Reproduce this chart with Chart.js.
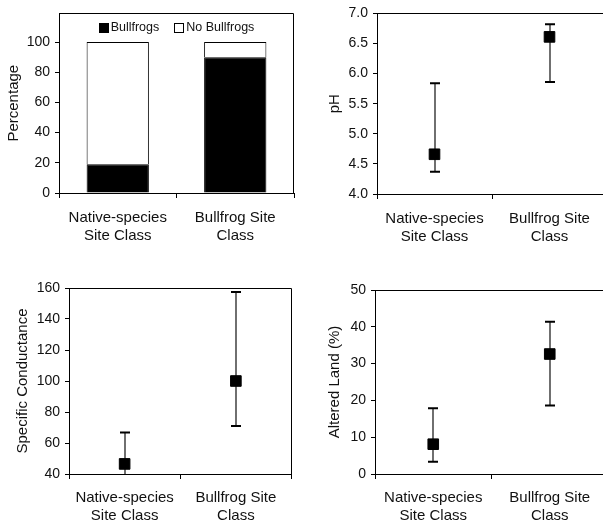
<!DOCTYPE html>
<html>
<head>
<meta charset="utf-8">
<script src="https://cdn.jsdelivr.net/npm/chart.js@4.4.1/dist/chart.umd.min.js"></script>
<style>
  html, body { margin: 0; padding: 0; background: #fff; }
  #wrap { position: relative; width: 603px; height: 523px; overflow: hidden; background: #fff; }
  canvas { position: absolute; }
</style>
</head>
<body>
<div id="wrap">
  <canvas id="pct"  width="300" height="250" style="left:0;top:0"></canvas>
  <canvas id="ph"   width="330" height="250" style="left:300px;top:0"></canvas>
  <canvas id="cond" width="300" height="253" style="left:0;top:270px"></canvas>
  <canvas id="land" width="330" height="253" style="left:300px;top:270px"></canvas>
</div>
<script>
// Site classes shared by all four panels
const categories = [['Native-species', 'Site Class'], ['Bullfrog Site', 'Class']];

// Percentage of sites with / without bullfrogs
const pctBullfrogs = [19, 90];
const pctNoBullfrogs = [81, 10];

// pH: median with range
const phMean = [4.66, 6.61];
const phLow = [4.37, 5.86];
const phHigh = [5.84, 6.82];

// Specific conductance
const condMean = [46.5, 100];
const condLow = [36, 71];
const condHigh = [66.7, 157.4];

// Altered land (%)
const landMean = [8.1, 32.6];
const landLow = [3.3, 18.6];
const landHigh = [17.9, 41.4];

const FONT = 'Liberation Sans, Arial, Helvetica, sans-serif';
const INK = '#111';

// Closes the plot box on the top (and, unless turned off, the right) side
const frame = {
  id: 'frame',
  afterDraw(chart, args, opts) {
    const a = chart.chartArea, ctx = chart.ctx;
    const l = Math.round(a.left) + 0.5, r = Math.round(a.right) - 0.5;
    const t = Math.round(a.top) + 0.5, b = Math.round(a.bottom) + 0.5;
    ctx.save();
    ctx.strokeStyle = '#000';
    ctx.lineWidth = 1;
    ctx.beginPath();
    ctx.moveTo(l, t); ctx.lineTo(r, t);
    if (!(opts && opts.openRight)) ctx.lineTo(r, b);
    ctx.stroke();
    ctx.restore();
  }
};

// Vertical range bars with caps, drawn under the markers
const errorBars = {
  id: 'errorBars',
  beforeDatasetsDraw(chart, args, opts) {
    if (!opts || !opts.low) return;
    const ys = chart.scales.y, a = chart.chartArea, ctx = chart.ctx;
    const meta = chart.getDatasetMeta(0);
    ctx.save();
    ctx.beginPath();
    ctx.rect(a.left, a.top - 10, a.right - a.left, a.bottom - a.top + 10);
    ctx.clip();
    meta.data.forEach((pt, i) => {
      const x = Math.round(pt.x);
      const yl = ys.getPixelForValue(opts.low[i]);
      const yh = ys.getPixelForValue(opts.high[i]);
      ctx.strokeStyle = '#222';
      ctx.lineWidth = 1.3;
      ctx.beginPath(); ctx.moveTo(x, yl); ctx.lineTo(x, yh); ctx.stroke();
      ctx.strokeStyle = '#000';
      ctx.lineWidth = 2;
      ctx.beginPath();
      ctx.moveTo(x - 5, yl); ctx.lineTo(x + 5, yl);
      ctx.moveTo(x - 5, yh); ctx.lineTo(x + 5, yh);
      ctx.stroke();
    });
    ctx.restore();
  }
};

// Legend laid inside the top of the plot box
const innerLegend = {
  id: 'innerLegend',
  afterDraw(chart, args, opts) {
    if (!opts || !opts.show) return;
    const ctx = chart.ctx, a = chart.chartArea;
    ctx.save();
    ctx.font = '12.5px ' + FONT;
    ctx.textBaseline = 'middle';
    const box = 9, gap = 3, sep = 15;
    const items = chart.data.datasets.map(d => ({ label: d.label, fill: d.backgroundColor }));
    const widths = items.map(it => box + gap + ctx.measureText(it.label).width);
    const total = widths.reduce((s, w) => s + w, 0) + sep * (items.length - 1);
    let x = (a.left + a.right) / 2 - total / 2;
    const y = a.top + 14;
    items.forEach((it, i) => {
      ctx.fillStyle = it.fill;
      ctx.fillRect(Math.round(x) + 0.5, Math.round(y - box / 2) + 0.5, box, box);
      ctx.strokeStyle = '#000';
      ctx.lineWidth = 1;
      ctx.strokeRect(Math.round(x) + 0.5, Math.round(y - box / 2) + 0.5, box, box);
      ctx.fillStyle = INK;
      ctx.fillText(it.label, x + box + gap, y);
      x += widths[i] + sep;
    });
    ctx.restore();
  }
};

Chart.register(frame, errorBars, innerLegend);

function xAxis(h, pad) {
  return {
    type: 'category',
    offset: true,
    grid: { offset: true, drawOnChartArea: false, color: '#000', tickLength: 5 },
    border: { display: true, color: '#000', width: 1 },
    ticks: { color: INK, font: { family: FONT, size: 15, lineHeight: 1.25 }, padding: pad, maxRotation: 0, autoSkip: false },
    afterFit(s) { s.height = h; }
  };
}

function yAxis(w, title, titlePad, min, max, step, fmt, tickPad) {
  return {
    min, max,
    grid: { drawOnChartArea: false, color: '#000', tickLength: 4 },
    border: { display: true, color: '#000', width: 1 },
    ticks: { stepSize: step, color: INK, font: { family: FONT, size: 14 }, padding: tickPad,
             callback: v => fmt(v) },
    title: { display: true, text: title, color: INK, font: { family: FONT, size: 15 }, padding: { top: titlePad, bottom: 0 } },
    afterBuildTicks(s) { s.ticks = s.ticks.filter(t => Math.abs(t.value / step - Math.round(t.value / step)) < 1e-6); },
    afterFit(s) { s.width = w; }
  };
}

const common = {
  responsive: false,
  animation: false,
  events: [],
  devicePixelRatio: 1,
};

function pointPanel(id, mean, low, high, pad, xh, xpad, yw, title, titlePad, min, max, step, fmt, tickPad, openRight) {
  new Chart(document.getElementById(id), {
    type: 'line',
    data: {
      labels: categories,
      datasets: [{
        data: mean,
        showLine: false,
        pointStyle: 'rect',
        pointRadius: 7.5,
        pointBackgroundColor: '#000',
        pointBorderColor: '#000',
        pointBorderWidth: 1
      }]
    },
    options: Object.assign({}, common, {
      layout: { padding: pad },
      plugins: { legend: { display: false }, tooltip: { enabled: false }, errorBars: { low, high }, frame: { openRight } },
      scales: { x: xAxis(xh, xpad), y: yAxis(yw, title, titlePad, min, max, step, fmt, tickPad) }
    })
  });
}

// Percentage stacked bars
new Chart(document.getElementById('pct'), {
  type: 'bar',
  data: {
    labels: categories,
    datasets: [
      { label: 'Bullfrogs', data: pctBullfrogs, backgroundColor: '#000', borderColor: '#000', borderWidth: 1,
        categoryPercentage: 1, barPercentage: 0.53 },
      { label: 'No Bullfrogs', data: pctNoBullfrogs, backgroundColor: '#fff', borderColor: '#000', borderWidth: 1,
        categoryPercentage: 1, barPercentage: 0.53 }
    ]
  },
  options: Object.assign({}, common, {
    layout: { padding: { top: 10, right: 6, left: 0, bottom: 0 } },
    plugins: { legend: { display: false }, tooltip: { enabled: false }, innerLegend: { show: true } },
    scales: {
      x: Object.assign(xAxis(57, 10), { stacked: true }),
      y: Object.assign(yAxis(59, 'Percentage', 5, 0, 119, 20, v => String(v), 5), { stacked: true })
    }
  })
});

// The two right-hand plot boxes run past the page edge
pointPanel('ph', phMean, phLow, phHigh, { top: 12, right: 23, left: 0, bottom: 0 }, 56, 10,
  77, 'pH', 26, 4, 7, 0.5, v => v.toFixed(1), 5, true);

pointPanel('cond', condMean, condLow, condHigh, { top: 18, right: 5, left: 0, bottom: 0 }, 49, 9,
  69, 'Specific Conductance', 14, 40, 160, 20, v => String(v), 5, false);

pointPanel('land', landMean, landLow, landHigh, { top: 20, right: 22, left: 0, bottom: 0 }, 49, 9,
  75, 'Altered Land (%)', 26, 0, 50, 10, v => String(v), 5, true);
</script>
</body>
</html>
